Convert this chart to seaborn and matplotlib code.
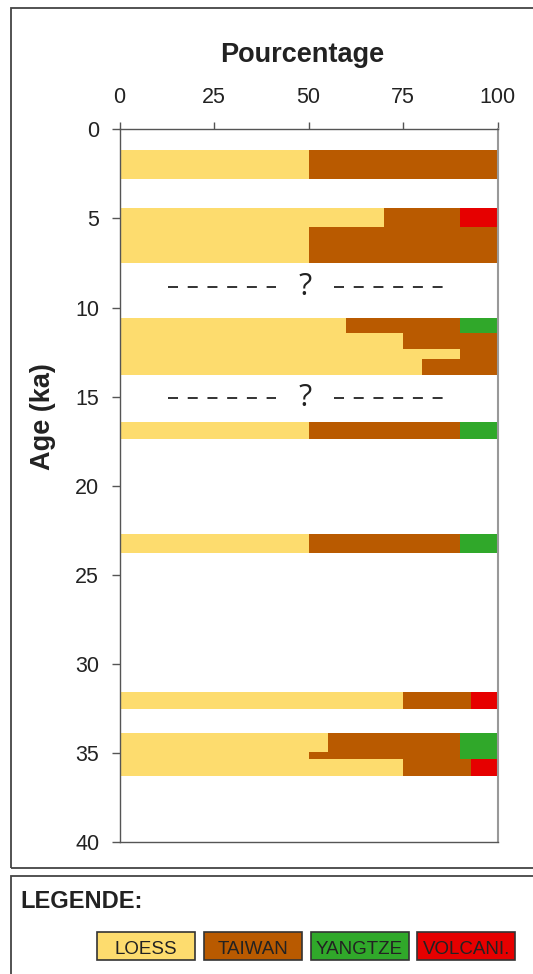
import matplotlib
matplotlib.use('Agg')
import matplotlib.pyplot as plt
from matplotlib.patches import Rectangle
import pandas as pd
import seaborn as sns

# ---- data ----
sources = ['LOESS', 'TAIWAN', 'YANGTZE', 'VOLCANI.']
colors = ['#FDDC6E', '#B95A00', '#30A82A', '#E60000']
age_top = [1.15, 4.4, 5.5, 10.6, 11.4, 12.3, 12.9, 16.4, 22.7, 31.55, 33.85, 34.95, 35.35]
age_bottom = [2.8, 5.5, 7.5, 11.4, 12.3, 12.9, 13.8, 17.4, 23.75, 32.5, 34.95, 35.35, 36.3]
loess = [50, 70, 50, 60, 75, 90, 80, 50, 50, 75, 55, 50, 75]
taiwan = [50, 20, 50, 30, 25, 10, 20, 40, 40, 18, 35, 40, 18]
yangtze = [0, 0, 0, 10, 0, 0, 0, 10, 10, 0, 10, 10, 0]
volcani = [0, 10, 0, 0, 0, 0, 0, 0, 0, 7, 0, 0, 7]
x_ticks = [0, 25, 50, 75, 100]
y_ticks = [0, 5, 10, 15, 20, 25, 30, 35, 40]
gap_ages = [8.82, 15.1]

sns.set_style('white')
plt.rcParams['font.family'] = ['Liberation Sans', 'DejaVu Sans']
plt.rcParams['lines.scale_dashes'] = False

rows = []
for i, (t, b) in enumerate(zip(age_top, age_bottom)):
    mid = (t + b) / 2
    for src, vals in zip(sources, [loess, taiwan, yangtze, volcani]):
        rows.append({'age': mid, 'source': src, 'pct': vals[i]})
df = pd.DataFrame(rows)
edges = sorted(set(age_top) | set(age_bottom))

W, H = 533, 974
fig = plt.figure(figsize=(W / 100, H / 100), dpi=100)
ax = fig.add_axes([119.5 / W, 1 - 842.3 / H, (497.7 - 119.5) / W, (842.3 - 129.3) / H])

sns.histplot(data=df, y='age', weights='pct', hue='source',
             hue_order=sources[::-1], palette=dict(zip(sources, colors)),
             bins=edges, multiple='stack', stat='count', element='bars',
             alpha=1, linewidth=0, edgecolor='none', legend=False, ax=ax)

ax.set_xlim(0, 100)
ax.set_ylim(40, 0)
ax.set_xticks(x_ticks)
ax.set_yticks(y_ticks)
ax.xaxis.tick_top()
ax.xaxis.set_label_position('top')
ax.tick_params(axis='x', which='both', top=True, bottom=False, labeltop=True,
               labelbottom=False, length=4.7, width=1, pad=10.5, labelsize=15.5,
               color='#555555', labelcolor='#222222', direction='out')
ax.tick_params(axis='y', which='both', left=True, length=5.6, width=1, pad=9,
               labelsize=15.5, color='#555555', labelcolor='#222222', direction='out')

ax.set_xlabel('Pourcentage', fontsize=19.5, fontweight='bold', color='#222222')
ax.xaxis.label.set_va('baseline')
ax.xaxis.set_label_coords(0.484, 1 + (129.3 - 61.7) / 713)
ax.set_ylabel('Age (ka)', fontsize=19.5, fontweight='bold', color='#222222')
ax.yaxis.label.set_va('center')
ax.yaxis.label.set_ha('center')
ax.yaxis.set_label_coords((42.5 - 119.5) / 378.2, 1 - (417 - 129.3) / 713)

for side in ['left', 'top', 'bottom']:
    ax.spines[side].set_color('#555555')
    ax.spines[side].set_linewidth(1.0)
ax.spines['right'].set_color('#999999')
ax.spines['right'].set_linewidth(1.5)

for y in gap_ages:
    ax.plot([12.8, 41.5], [y, y], color='#222222', lw=1.3, linestyle=(0, (7.2, 7.0)))
    ax.plot([56.7, 85.5], [y, y], color='#222222', lw=1.3, linestyle=(0, (7.2, 7.0)))
    ax.text(49, y, '?', ha='center', va='center', fontsize=22,
            color='#222222', family=['Open Sans', 'DejaVu Sans'])

# outer frames
fig.add_artist(Rectangle((11 / W, 1 - 867.7 / H), (560 - 11) / W, (867.7 - 8.3) / H,
                         transform=fig.transFigure, fill=False, ec='#444444', lw=1.3))
fig.add_artist(Rectangle((11 / W, -0.05), (560 - 11) / W, 0.05 + 1 - 876.3 / H,
                         transform=fig.transFigure, fill=False, ec='#444444', lw=1.3))

# legend
fig.text(20 / W, 1 - 908 / H, 'LEGENDE:', fontsize=17, fontweight='bold',
         color='#222222', va='baseline', ha='left')
for i, (src, c) in enumerate(zip(sources, colors)):
    x0 = 96.7 + i * 106.9
    fig.add_artist(Rectangle((x0 / W, 1 - 960 / H), 98 / W, 28.3 / H,
                             transform=fig.transFigure, fc=c, ec='#333333', lw=1.2))
    fig.text((x0 + 49) / W, 1 - 954.5 / H, src, fontsize=13.5, color='#222222',
             ha='center', va='baseline')

fig.savefig('out.png', dpi=100)
